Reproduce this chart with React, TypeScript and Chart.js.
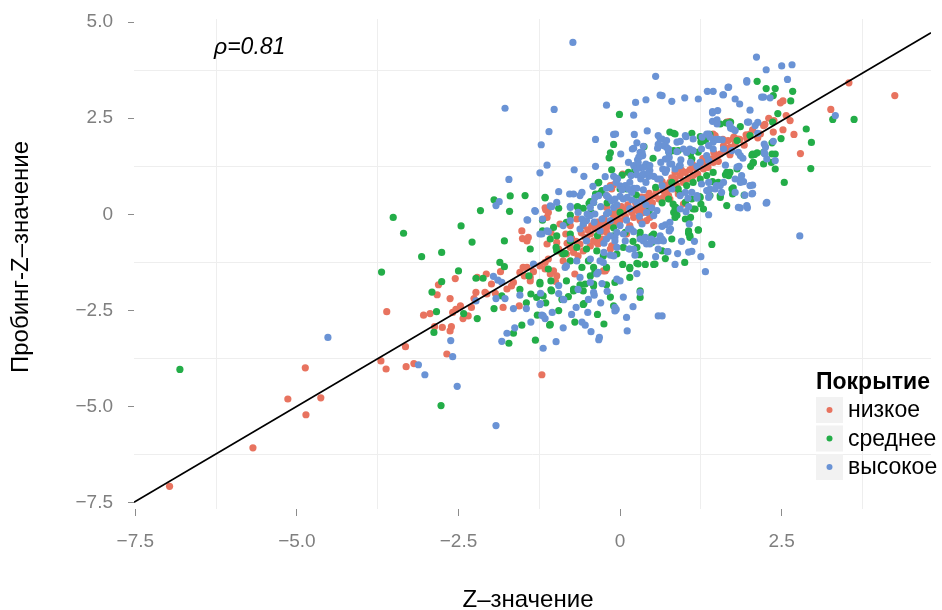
import React, { useEffect, useRef } from "react";
import { Chart, registerables } from "chart.js";

Chart.register(...registerables);

type Pt = [number, number];

// Legend categories and their colours
const coverageLevels = ["низкое", "среднее", "высокое"];
const levelColors = ["#E8735F", "#23AD48", "#6A93D5"];

// Z-значение vs probing Z-значение, one list per coverage level
const lowCoverage: Pt[] = [
  [-6.97,-7.07],[-5.68,-6.07],[-5.14,-4.80],[-4.86,-5.21],[-4.87,-3.99],[-4.63,-4.77],
  [-3.61,-2.53],[-3.70,-3.81],[-3.62,-4.02],[-3.32,-3.44],[-3.31,-3.96],[-3.19,-3.88],[-1.21,-4.17],
  [-3.04,-2.62],[-2.94,-2.58],[-2.87,-2.92],[-2.75,-2.94],[-2.63,-3.03],[-2.61,-2.92],[-2.68,-3.63],
  [-2.81,-1.83],[-2.83,-2.09],[-2.55,-1.67],[-2.63,-2.19],[-2.59,-2.55],[-2.54,-2.47],[-2.47,-2.38],
  [-2.43,-2.71],[-2.35,-2.64],[-2.30,-2.42],[-2.26,-2.19],[-2.23,-2.03],[-2.21,-1.64],[-2.07,-1.55],
  [-1.99,-1.81],[-2.06,-2.07],[-1.93,-2.05],[-1.85,-1.49],[-1.81,-2.42],[-2.09,-2.03],[-1.56,-2.38],
  [-1.65,-1.77],[-1.55,-1.51],[-1.50,-1.38],[-1.68,-1.86],[-1.75,-1.94],[-1.39,-1.64],
  [-1.52,-0.43],[-1.44,-0.69],[-1.51,-0.63],[-1.42,-0.60],[-1.13,-0.08],
  [-1.44,-1.38],[-1.34,-1.49],[-1.48,-1.60],[-1.39,-1.73],[-1.00,-1.74],
  [-1.24,-1.34],[-1.16,-1.25],[-1.11,-1.16],[-1.03,-1.47],[-0.98,-1.60],[-0.88,-1.21],[-0.83,-1.03],
  [-0.77,-0.86],[-0.70,-1.55],[-0.62,-0.77],[-0.54,-0.60],[-0.46,-0.51],[-0.39,-0.38],[-0.31,-0.29],
  [-0.23,-1.47],[-0.18,-0.21],[-0.10,-0.12],[-0.05,-0.03],
  [-1.13,-0.77],[-1.07,-0.47],[-0.98,-0.73],[-0.93,-0.25],[-0.77,-0.29],[-0.84,-0.51],[-0.67,-0.12],
  [-0.57,-0.29],[-0.46,-0.82],[-0.36,-0.73],[-0.28,-0.64],[-0.21,-0.47],[-0.13,0.66],[-0.21,0.49],
  [-1.15,0.12],[-1.11,0.05],[-1.16,0.17],
  [-1.16,-1.42],[-1.08,-1.55],[-0.26,-1.47],[-0.21,-1.42],
  [-0.52,-0.60],[-0.41,-0.69],[-0.13,-0.82],[-0.15,-0.90],[-0.34,-0.77],[-0.57,-0.95],[-0.72,-0.99],[-0.65,-1.08],
  [-0.26,-0.25],[-0.21,-0.34],[-0.36,-0.34],[-0.05,0.10],[0.05,0.01],[0.00,-0.16],[0.21,-0.08],[0.31,-0.16],
  [0.41,-0.16],[0.46,-0.08],[0.52,-0.29],[0.36,0.05],[0.15,-0.29],[0.10,-0.51],
  [0.39,0.44],[0.46,0.40],[0.54,0.49],[0.41,0.31],[0.31,0.18],[0.21,0.14],[-0.21,0.18],[-0.05,0.14],[0.05,0.12],
  [0.04,1.05],[-0.10,0.77],[-0.15,0.75],
  [0.70,0.75],[0.77,0.83],[0.85,0.92],[0.93,1.01],[1.01,1.09],[1.08,1.16],[1.16,1.22],[1.24,1.31],
  [1.32,1.37],[1.39,1.44],[1.47,1.51],[1.55,1.57],[1.63,1.66],[1.70,1.74],[1.78,1.83],
  [0.83,0.66],[0.98,0.83],[1.13,1.01],[1.29,1.18],[1.44,1.35],[0.90,0.53],[0.75,0.49],[0.67,0.62],
  [0.85,1.09],[0.77,0.40],[0.67,0.44],[0.98,0.27],
  [2.22,2.31],[2.37,2.14],[2.17,2.09],[2.13,1.99],[2.01,2.09],[1.65,2.40],[1.69,2.41],[1.44,2.09],
  [1.76,2.01],[1.82,1.96],[1.95,2.07],[2.57,2.57],[2.63,2.44],[2.38,2.44],[2.24,2.34],[2.52,2.20],
  [2.69,2.08],[3.26,2.73],[4.25,3.09],[2.79,1.58],[3.54,3.42],[2.52,2.95],[2.48,2.90],[1.96,1.98],
  [1.75,1.96],[1.67,1.92],[1.59,1.95],[1.69,1.72],[1.63,1.67],[1.47,2.05],
  [-0.95,-0.90],[-0.90,-1.02],[-0.82,-0.75],[-0.75,-0.62],[-0.68,-0.70],[-0.60,-0.48],[-0.50,-0.40],
  [-0.44,-0.30],[-0.35,-0.20],[-0.30,-0.45],[-0.25,-0.10],[-0.18,-0.30],[-0.12,0.02],[-0.08,-0.25],
  [0.02,0.20],[0.08,-0.05],[0.12,0.25],[0.18,0.05],[0.24,0.30],[0.28,0.08],[0.33,0.45],[0.38,0.22],
  [0.45,0.55],[0.50,0.30],[0.56,0.62],[0.60,0.40],[0.65,0.85],[0.72,0.60],[0.80,0.95],[0.88,0.75],
  [0.95,1.15],[1.05,0.92],[1.12,1.30],[1.20,1.05],[1.28,1.45],[1.36,1.22],[1.45,1.60],[1.52,1.38],
  [1.60,1.78],[1.70,1.55],[1.85,1.95],[1.92,1.80],[2.05,2.20],[2.30,2.50],
];

const mediumCoverage: Pt[] = [
  [-6.81,-4.03],[-3.51,-0.08],[-3.35,-0.49],[-3.69,-1.50],[-2.77,-4.97],[-3.07,-1.10],[-2.76,-0.99],
  [-2.46,-0.30],[-2.16,0.10],[-2.29,-0.72],[-2.50,-1.47],[-2.76,-1.75],[-2.91,-2.02],[-2.84,-2.53],
  [-2.88,-3.07],[-2.42,-2.58],[-2.21,-2.71],[-2.23,-1.66],[-2.12,-1.66],[-1.95,-2.45],[-1.83,-2.12],
  [-1.86,-1.25],[-1.79,-1.36],[-1.79,-0.69],[-1.95,0.38],[-1.70,0.48],[-1.47,0.49],[-1.71,0.08],
  [-1.16,0.43],[-1.39,-0.90],[-1.20,-0.43],[-1.41,-1.60],[-1.24,-1.77],[-1.07,-1.96],[-1.38,-2.07],
  [-1.29,-2.16],[-1.28,-2.62],[-1.09,-2.88],[-1.65,-3.09],[-1.72,-3.35],[-1.52,-2.88],[-1.31,-3.27],
  [-0.56,-2.32],[-0.80,-2.14],[-0.72,-1.99],[-0.57,-1.99],[-0.41,-1.81],[-1.07,-1.73],[-0.83,-1.73],
  [-0.95,0.16],[-0.66,0.20],[-0.77,-0.02],[-0.48,0.29],[-0.41,0.31],[-1.20,-0.15],
  [-0.01,2.60],[-0.10,1.82],[-0.15,1.60],[-0.17,1.47],[0.51,1.46],[0.77,2.14],[0.83,2.11],[-0.34,0.82],[-0.13,1.16],
  [2.12,3.46],[2.26,3.27],[2.40,3.27],[2.67,3.20],[2.64,2.95],[2.44,2.62],[3.29,2.47],[3.62,2.47],
  [2.88,2.22],[2.96,1.87],[2.95,1.19],[2.54,0.83],[2.49,1.97],[2.35,1.86],[2.35,1.57],[2.34,1.35],
  [2.40,1.18],[2.04,1.54],[2.08,1.56],[2.02,1.25],[2.06,1.34],[1.92,0.50],[1.75,0.69],[1.74,0.53],
  [1.63,1.03],[1.70,1.09],[1.81,1.92],[1.86,2.28],[2.01,2.05],[1.64,2.38],[1.71,2.40],[1.24,2.02],
  [1.32,1.92],[1.39,2.08],[1.11,2.11],[0.85,2.09],[0.03,1.02],[1.11,1.44],[1.09,1.57],
  [1.21,1.62],[1.55,0.49],[1.43,0.85],[1.23,0.46],[1.25,0.27],[1.13,0.14],[1.01,-0.12],[1.09,-0.08],
  [1.06,-0.49],[1.08,-0.56],[1.21,-0.40],[1.42,-0.78],[0.04,-1.30],[0.26,-1.27],[0.39,-1.30],[0.52,-1.30],
  [0.15,-1.41],[0.80,-0.64],[0.52,-0.51],[0.49,-0.73],[0.31,-0.56],[0.08,-0.47],[-0.10,-0.56],[0.88,-0.02],
  [0.84,0.05],[0.86,0.18],[0.82,0.27],[0.75,0.40],[2.37,3.09],[2.36,2.40],[1.55,2.35],
  [1.26,1.98],[1.25,1.88],[0.83,1.66],[0.90,1.66],[0.76,1.61],[2.05,1.57],[2.12,1.60],
  [2.22,1.61],[2.06,1.35],[2.22,1.31],[2.40,1.57],[0.37,1.76],[0.13,1.09],[0.23,1.16],[-0.33,0.83],
  [-0.38,0.53],[-0.31,0.55],[-0.28,0.62],[0.00,0.66],[0.10,0.66],[0.20,0.62],[-1.16,0.44],[-0.46,0.33],
  [-0.65,0.18],[-0.57,0.16],
  [-1.08,-0.64],[-0.98,-0.95],[-0.88,-1.03],[-0.77,-1.21],[-0.67,-0.86],[-0.49,-1.21],
  [-0.41,-1.38],[-0.59,-1.38],[-0.72,-1.94],[-0.62,-1.83],[-0.39,-1.51],[-1.06,-1.99],
  [-0.57,-2.34],[-0.21,-1.83],[0.15,-1.38],[0.15,-1.64],[0.28,-1.29],[0.54,-1.29],
  [0.31,-1.99],[0.31,-2.16],[-0.10,-2.38],[-1.08,-2.86],[-1.03,-0.34],[-0.77,-0.69],[-0.36,-0.95],
  [-0.05,-1.03],[0.05,-0.86],[0.26,-0.86],[0.49,-0.56],[0.31,-0.47],[-1.24,-1.81],[-1.19,-2.12],
  [1.06,-0.43],[1.08,-0.60],[1.21,-0.41],[0.83,0.05],[0.85,-0.08],[1.29,0.14],
  [-0.98,-0.56],[-0.77,-0.51],[-0.83,-0.21],[-0.52,-0.90],[-0.46,-1.60],[-0.26,-1.08],
  [-0.21,-1.38],[-0.08,-1.77],[-0.41,-1.86],[-0.54,-1.81],[-0.90,-2.21],[-0.99,-0.86],[-0.85,-1.01],[-1.11,-1.42],
  [0.80,0.83],[0.90,0.66],[0.93,0.53],[1.03,0.75],[1.13,0.83],[1.24,0.92],[1.34,1.01],
  [1.44,1.09],[1.52,0.83],[1.65,1.09],[1.68,1.01],[1.81,1.18],[1.73,0.66],[1.55,0.44],[1.39,0.49],
  [1.24,0.44],[1.11,0.40],[1.01,0.31],[0.85,0.18],[1.16,0.14],[1.65,0.23],
  [-1.45,-2.30],[-1.15,-2.30],[-0.95,-2.50],[-0.70,-2.80],[-0.35,-2.60],[-0.15,-2.15],[-1.55,-1.95],
  [-0.25,-2.85],[0.70,-1.15],[1.00,-1.25],[0.30,-1.05],[0.65,-0.95],
  [-0.20,0.30],[0.00,0.05],[0.25,0.50],[0.45,0.10],[-0.45,0.05],[-0.10,-0.35],[0.20,-0.70],
  [-0.35,-0.55],[0.55,0.70],[0.65,0.30],
];

const highCoverage: Pt[] = [
  [-4.52,-3.20],[-3.12,-3.91],[-3.02,-4.17],[-2.52,-4.47],[-1.92,-5.49],[-2.62,-3.28],[-2.59,-3.70],
  [-0.73,4.47],[-1.78,2.76],[-1.02,2.73],[0.55,3.59],[0.62,3.10],[0.80,2.94],[0.40,2.98],[0.24,2.91],
  [-0.21,2.84],[0.21,2.58],[-1.10,2.15],[-1.22,1.81],[-1.13,1.28],[-1.24,1.08],[-1.72,0.91],[-1.92,0.23],
  [-1.87,0.33],[-1.31,0.08],[-1.44,-0.14],[-1.20,-0.12],[-0.95,0.59],[-0.78,0.53],[-0.72,0.53],[-0.62,0.49],
  [-0.59,0.57],[-0.71,1.16],[-0.56,0.99],[-0.38,1.25],[-0.38,1.95],[-0.10,2.08],[-0.07,2.09],[0.22,2.08],
  [0.42,2.17],[0.01,1.57],[0.26,1.86],[0.36,1.77],[0.19,1.70],[0.59,2.05],[0.65,1.96],[-0.23,0.98],
  [-0.10,0.99],[-0.04,0.92],[-0.42,0.73],[-0.33,0.49],[-0.21,0.68],[0.00,0.74],[0.08,0.75],[0.21,0.68],
  [-0.51,0.01],[-1.08,0.22],
  [-1.96,-1.61],[-1.89,-1.71],[-1.83,-1.77],[-1.92,-2.19],[-1.78,-2.19],[-1.32,0.10],[-1.43,-0.15],
  [-1.21,-0.51],[-1.11,-0.45],[-1.34,-1.29],[-1.23,-2.05],[-1.23,-2.32],[-1.21,-2.62],[-1.16,-2.71],
  [-1.63,-2.95],[-1.75,-3.09],[-1.83,-3.30],[-1.19,-3.48],[-0.99,-3.31],[-0.88,-2.95],[-0.59,-2.80],
  [-0.54,-2.88],[-0.33,-3.26],[-0.68,-2.42],[-0.95,-2.06],[-0.87,-2.22],[-0.40,-2.10],[-2.23,-2.25],
  [2.11,4.09],[2.50,3.86],[2.66,3.89],[2.26,3.76],[1.96,3.48],[2.59,3.51],[1.67,3.30],[1.35,3.20],
  [1.00,3.03],[1.21,3.00],[1.59,3.11],[1.78,3.00],[1.85,2.87],[2.22,3.05],[1.43,2.67],[1.51,2.70],
  [2.01,2.71],[3.33,2.57],[2.78,-0.56],[2.13,2.39],[1.97,2.40],[2.23,1.83],[2.25,1.75],[2.23,1.61],
  [2.05,0.76],[2.05,0.55],[1.93,0.50],[2.26,0.29],[1.86,0.17],[1.97,0.17],[1.87,0.92],[1.91,0.85],
  [1.81,1.23],[1.84,1.25],[1.63,1.28],[1.83,1.61],[1.90,1.46],[1.71,2.24],[1.78,2.18],[1.69,2.35],
  [2.13,2.11],[1.58,1.94],[1.43,2.42],[1.50,2.46],[1.37,2.09],[1.44,1.88],[1.48,1.95],[1.27,2.01],
  [1.02,2.02],[0.93,1.90],[0.58,1.72],[0.72,1.74],[0.75,1.63],[0.31,1.61],[0.29,1.49],[0.35,1.53],
  [0.27,1.42],[0.13,1.35],[0.21,1.27],[0.25,1.18],[0.30,1.20],[0.17,1.01],[-0.05,0.94],[0.39,1.25],
  [0.46,1.14],[0.34,1.01],[0.44,0.99],[0.63,1.35],[0.70,1.44],[0.76,1.48],[0.80,1.31],[0.66,1.18],
  [0.72,1.16],[0.88,1.63],[0.94,1.42],[0.92,1.27],[1.08,1.70],[1.09,1.35],[1.19,1.25],[1.24,1.35],
  [1.34,1.53],[1.37,1.40],[1.49,0.75],[1.39,0.66],[1.34,0.62],[1.38,0.49],[1.19,0.42],[1.05,0.42],
  [0.93,0.49],[1.37,-0.01],[1.06,0.20],[1.02,0.07],[0.93,0.14],[1.07,-0.25],[1.06,-0.98],[1.11,-0.96],
  [0.89,-1.02],[0.74,-0.97],[0.23,-1.06],[0.14,-0.90],[1.32,-1.49],[0.78,-0.38],[0.70,-0.27],[0.65,-0.31],
  [0.77,-0.21],[0.62,-0.56],[0.67,-0.69],[0.36,-0.69],[0.48,-0.64],[0.41,-0.77],[0.21,-0.45],[0.34,-0.25],
  [0.17,-0.38],[0.00,-0.29],[0.08,-0.69],[-0.21,-0.64],[-0.25,-0.99],[-0.15,-1.06],[-0.26,-1.25],[0.52,-0.03],
  [0.57,0.10],[0.49,0.17],[0.41,0.05],
  [0.65,3.09],[1.44,3.20],[1.68,3.31],[1.60,3.11],[1.96,3.44],[2.19,3.05],[2.32,3.03],[1.43,2.64],
  [2.09,2.31],[1.99,2.40],[1.50,2.35],[1.70,2.31],[1.74,2.22],[1.01,2.05],[1.13,1.96],
  [1.34,2.09],[1.39,2.01],[1.52,1.95],[0.62,1.96],[0.72,1.92],[0.67,1.79],[0.75,1.70],[0.88,1.88],
  [0.98,1.70],[1.03,1.61],[1.13,1.66],[1.26,1.70],[1.37,1.79],[1.44,1.70],[1.60,1.70],[1.73,1.66],
  [1.86,1.53],[2.24,1.57],[2.27,1.44],[2.40,1.40],[2.37,1.90],
  [0.59,1.82],[0.21,1.72],[0.34,1.61],[0.31,1.51],[0.40,1.31],[0.46,1.27],
  [0.36,1.22],[0.28,1.35],[0.26,1.03],[0.32,0.92],[0.36,1.05],[0.44,1.08],[0.52,0.99],[0.58,0.92],
  [0.15,0.83],[0.13,0.66],[0.03,0.64],[0.18,0.57],[0.26,0.68],[0.36,0.64],[0.40,0.83],
  [-0.15,0.70],[-0.06,0.83],[-0.39,0.44],[-0.18,0.44],[-0.13,0.36],
  [-0.08,0.40],[0.00,0.47],[0.05,0.40],[0.11,0.44],[0.18,0.38],[0.26,0.31],[0.34,0.40],[-1.06,0.20],
  [-0.77,0.21],[-0.46,0.18],
  [0.76,-0.43],[0.65,-0.64],[0.73,-0.97],[0.65,-2.64],
  [-1.19,-2.64],[0.10,-2.68],[0.11,-3.03],[0.31,-2.03],[-0.08,-2.42],
  [-0.06,-2.47],[-0.05,-1.68],[0.00,-1.73],[-0.28,-1.80],[0.26,-1.54],[0.59,-2.64],[-0.32,-3.20],
  [-1.24,-2.34],[-0.88,-2.21],[-0.36,-1.55],[-0.46,-1.77],[-0.49,-2.21],[0.15,-0.90],[0.59,-0.69],
  [-0.88,-0.29],[-0.77,-0.16],[-0.59,-0.12],[-0.52,-0.16],[-0.46,-0.03],[-0.39,0.01],[-0.18,0.05],
  [-0.15,-0.16],[-0.05,-0.47],[0.05,-0.51],[0.13,-0.38],[0.31,-0.64],[0.39,-0.60],[0.46,-0.77],
  [0.54,-0.69],[0.59,-0.90],[0.21,-0.90],[-0.08,-0.60],[-0.67,-1.21],[-0.85,-1.38],[-0.62,-1.64],
  [-1.24,-0.51],[-1.13,-0.43],
  [-0.41,0.31],[-0.21,0.49],[-0.10,0.18],[-0.21,0.01],[-0.28,-0.12],[-0.31,-0.43],
  [-0.15,-0.56],[-0.08,-0.69],[-0.05,-0.86],[-0.10,-1.08],[-0.31,-1.21],[-0.34,-1.51],[-0.57,-0.25],
  [-0.62,-0.38],[-0.52,-0.69],[-0.83,-1.34],[-0.98,0.31],[-0.77,0.18],[-0.65,0.05],
  [-0.77,-0.64],[-0.46,-1.16],[-0.41,-2.03],[-0.08,-2.51],
  [0.72,1.44],[0.77,1.31],[0.85,1.18],[0.93,1.27],[0.70,1.09],[0.62,0.92],[0.65,0.75],
  [0.80,0.66],[1.01,0.57],[1.11,0.57],[1.19,0.49],[1.37,0.44],[1.47,0.66],[1.55,0.75],[1.60,0.83],
  [1.37,0.83],[1.26,0.79],[1.78,0.92],[1.86,0.83],[1.88,1.01],[2.01,0.75],[2.04,0.53],[1.96,0.23],
  [1.83,0.18],[2.27,0.31],[1.78,0.57],[1.57,0.57],
  [-1.45,-2.45],[-1.38,-2.80],[-1.05,-2.55],[-0.95,-1.85],[-0.75,-2.60],[-0.65,-1.95],[-0.50,-2.55],
  [-0.30,-2.30],[-0.20,-2.00],[-0.45,-3.05],[0.05,-2.15],[0.20,-2.40],[-1.55,-2.10],[-1.65,-2.45],
  [0.95,-0.70],[1.15,-0.70],[0.55,-1.10],[0.85,-1.30],[1.25,-1.10],
  [-0.30,0.20],[-0.05,0.25],[0.15,0.15],[0.30,-0.05],[0.40,0.25],[-0.40,-0.20],[-0.25,-0.75],[0.10,-0.15],
];

// Axis ranges and ticks (majors every 2.5, minors halfway between)
const xRange: [number, number] = [-7.52, 4.81];
const yRange: [number, number] = [-7.66, 5.08];
const xTickValues = [-7.5, -6.25, -5, -3.75, -2.5, -1.25, 0, 1.25, 2.5, 3.75];
const yTickValues = [-7.5, -6.25, -5, -3.75, -2.5, -1.25, 0, 1.25, 2.5, 3.75, 5];

// Fitted line and correlation annotation
const fitSlope = 0.99;
const fitIntercept = -0.04;
const rho = 0.81;
const rhoAnchor: Pt = [-5.73, 4.17];

const xTitle = "Z–значение";
const yTitle = "Пробинг-Z–значение";
const legendTitle = "Покрытие";

const FONT = "'Liberation Sans', Arial, Helvetica, sans-serif";
const TICK_GREY = "#7F7F7F";

const isMajor = (v: number) => Math.abs(v / 2.5 - Math.round(v / 2.5)) < 1e-6;
const fmtTick = (v: number) =>
  Math.abs(v) < 1e-9 ? "0" : (v < 0 ? "−" : "") + Math.abs(v).toFixed(1);

const toXY = (pts: Pt[]) => pts.map(([x, y]) => ({ x, y }));

const decorations = {
  id: "decorations",
  afterDraw(chart: any) {
    const { ctx, scales } = chart;
    const xs = scales.x;
    const ys = scales.y;
    ctx.save();

    // correlation label
    ctx.fillStyle = "#000";
    ctx.font = `italic 23px ${FONT}`;
    ctx.textAlign = "center";
    ctx.textBaseline = "alphabetic";
    ctx.fillText(`ρ=${rho.toFixed(2)}`, xs.getPixelForValue(rhoAnchor[0]), ys.getPixelForValue(rhoAnchor[1]));

    // axis titles
    ctx.font = `24px ${FONT}`;
    ctx.textAlign = "center";
    ctx.textBaseline = "alphabetic";
    ctx.fillText(xTitle, 528, 607);

    ctx.save();
    ctx.translate(28, 257);
    ctx.rotate(-Math.PI / 2);
    ctx.fillText(yTitle, 0, 0);
    ctx.restore();

    // legend
    const lx = 816;
    ctx.textAlign = "left";
    ctx.font = `bold 23px ${FONT}`;
    ctx.fillText(legendTitle, lx, 389);
    ctx.font = `23px ${FONT}`;
    ctx.textBaseline = "middle";
    coverageLevels.forEach((name, i) => {
      const top = 397 + i * 28.5;
      ctx.fillStyle = "#F2F2F2";
      ctx.fillRect(lx, top, 27, 26);
      ctx.fillStyle = levelColors[i];
      ctx.beginPath();
      ctx.arc(lx + 13.5, top + 13, 3, 0, Math.PI * 2);
      ctx.fill();
      ctx.fillStyle = "#000";
      ctx.fillText(name, lx + 32, top + 14);
    });
    ctx.restore();
  },
};

function axisOptions(ticks: number[], range: [number, number], isX: boolean) {
  return {
    type: "linear" as const,
    min: range[0],
    max: range[1],
    afterBuildTicks: (s: any) => {
      s.ticks = ticks.map((v) => ({ value: v }));
    },
    afterFit: (s: any) => {
      if (isX) s.height = 101;
      else s.width = 134;
      s.paddingTop = 0;
      s.paddingBottom = 0;
      s.paddingLeft = 0;
      s.paddingRight = 0;
    },
    border: { display: false },
    grid: {
      color: (c: any) => (c.tick && isMajor(c.tick.value) ? "rgba(0,0,0,0)" : "#EEEEEE"),
      lineWidth: 1,
      tickLength: isX ? 7 : 6,
      tickWidth: 1,
      tickColor: (c: any) => (c.tick && isMajor(c.tick.value) ? "#8C8C8C" : "rgba(0,0,0,0)"),
    },
    ticks: {
      autoSkip: false,
      maxRotation: 0,
      padding: isX ? 14 : 15,
      color: TICK_GREY,
      font: { family: FONT, size: 19 },
      callback: (v: any) => (isMajor(Number(v)) ? fmtTick(Number(v)) : ""),
    },
  };
}

export default function App() {
  const canvasRef = useRef<HTMLCanvasElement | null>(null);

  useEffect(() => {
    if (!canvasRef.current) return;
    const lineY = (x: number) => fitSlope * x + fitIntercept;
    const pointStyle = (color: string) => ({
      backgroundColor: color,
      borderWidth: 0,
      pointRadius: 3.6,
      pointHoverRadius: 3.6,
    });

    const chart = new Chart(canvasRef.current, {
      type: "scatter",
      data: {
        datasets: [
          {
            label: "fit",
            data: [
              { x: xRange[0], y: lineY(xRange[0]) },
              { x: xRange[1], y: lineY(xRange[1]) },
            ],
            showLine: true,
            borderColor: "#000",
            borderWidth: 1.6,
            pointRadius: 0,
            order: 0,
          } as any,
          { label: coverageLevels[2], data: toXY(highCoverage), order: 1, ...pointStyle(levelColors[2]) },
          { label: coverageLevels[1], data: toXY(mediumCoverage), order: 2, ...pointStyle(levelColors[1]) },
          { label: coverageLevels[0], data: toXY(lowCoverage), order: 3, ...pointStyle(levelColors[0]) },
        ],
      },
      options: {
        responsive: false,
        animation: false,
        devicePixelRatio: 1,
        events: [],
        layout: { padding: { top: 19, right: 11, left: 0, bottom: 0 } },
        plugins: { legend: { display: false }, tooltip: { enabled: false } },
        scales: {
          x: axisOptions(xTickValues, xRange, true),
          y: axisOptions(yTickValues, yRange, false),
        } as any,
      },
      plugins: [decorations],
    });
    return () => chart.destroy();
  }, []);

  return (
    <div style={{ position: "fixed", left: 0, top: 0, width: 942, height: 610, background: "#fff" }}>
      <canvas ref={canvasRef} width={942} height={610} style={{ width: 942, height: 610, display: "block" }} />
    </div>
  );
}
